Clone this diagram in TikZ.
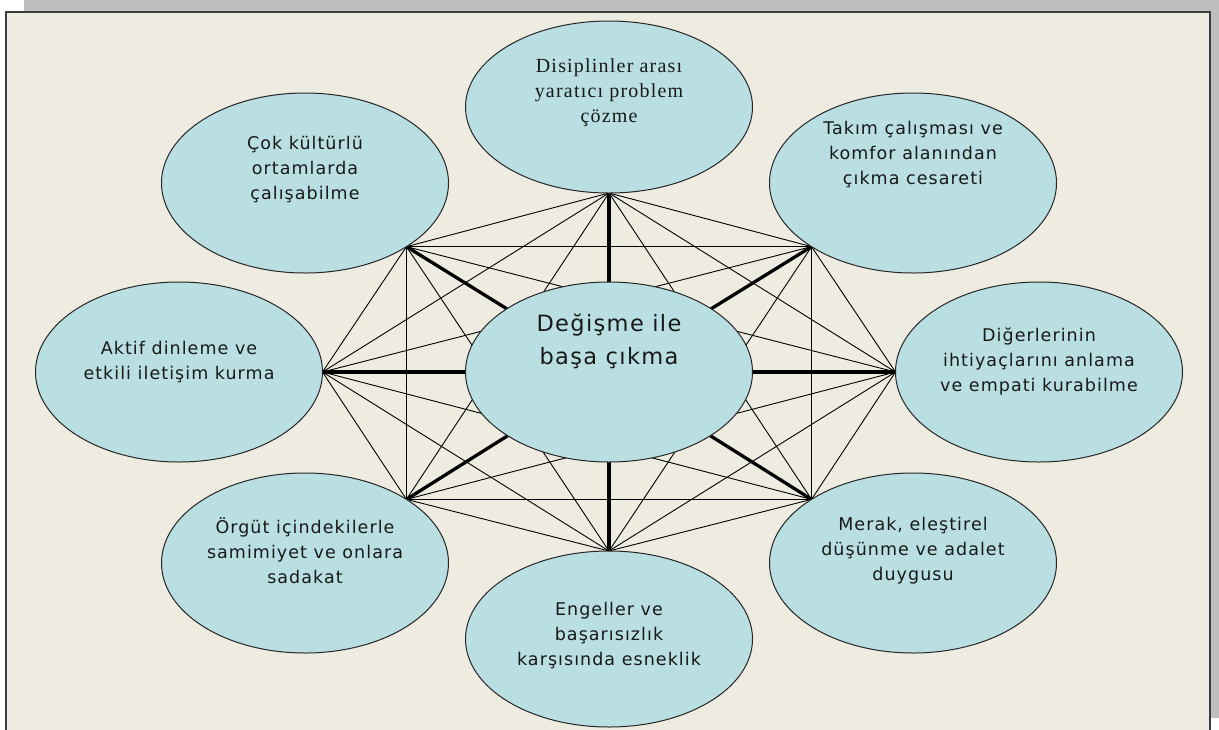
\documentclass[tikz,border=0pt]{standalone}
\usepackage{fontspec}
\usetikzlibrary{shapes.geometric, calc}
\newfontfamily\bubblefont{DejaVu Sans}[LetterSpace=6]
\newfontfamily\serifbubblefont{Liberation Serif}[LetterSpace=6]

\definecolor{bubblefill}{RGB}{185,223,227}
\definecolor{paper}{RGB}{238,235,224}
\definecolor{shadowgray}{RGB}{190,190,190}
\definecolor{framegray}{RGB}{60,60,60}

\pgfdeclarelayer{back}
\pgfdeclarelayer{links}
\pgfsetlayers{back,links,main}

\tikzstyle{bubble} = [ellipse, draw=black!85, line width=1pt, fill=bubblefill, minimum width=287pt, minimum height=180pt, inner sep=0pt, outer sep=0pt]
\tikzstyle{bubbletext} = [font=\bubblefont\fontsize{17.5}{25}\selectfont, align=center, text=black!90]
\tikzstyle{serifbubbletext} = [font=\serifbubblefont\fontsize{20}{25}\selectfont, align=center, text=black!90]
\tikzstyle{hubtext} = [font=\bubblefont\fontsize{22.5}{33}\selectfont, align=center, text=black!90]
\tikzstyle{thinlink} = [line width=0.9pt]
\tikzstyle{thicklink} = [line width=3.3pt]

\begin{document}
\begin{tikzpicture}[x=1pt, y=-1pt]
    \useasboundingbox (0,0) rectangle (1219,729);

    % paper with its shadow
    \begin{pgfonlayer}{back}
        \fill[shadowgray] (24,0) rectangle (1219,718);
        \filldraw[fill=paper, draw=framegray, line width=2pt] (6,12) rectangle (1210,745);
    \end{pgfonlayer}

    % the eight skills round the hub
    \node[bubble, minimum height=172pt, label={[serifbubbletext, yshift=14pt]center:{Disiplinler arası\\yaratıcı problem\\çözme}}] (problem) at (609,107) {};
    \node[bubble, label={[bubbletext, yshift=28pt]center:{Takım çalışması ve\\komfor alanından\\çıkma cesareti}}] (team) at (913,183) {};
    \node[bubble, label={[bubbletext, yshift=11pt]center:{Diğerlerinin\\ihtiyaçlarını anlama\\ve empati kurabilme}}] (empathy) at (1039,372) {};
    \node[bubble, label={[bubbletext, yshift=12pt]center:{Merak, eleştirel\\düşünme ve adalet\\duygusu}}] (curiosity) at (913,563) {};
    \node[bubble, minimum height=176pt, label={[bubbletext, yshift=3pt]center:{Engeller ve\\başarısızlık\\karşısında esneklik}}] (resilience) at (609,639) {};
    \node[bubble, label={[bubbletext, yshift=12pt]center:{Örgüt içindekilerle\\samimiyet ve onlara\\sadakat}}] (loyalty) at (305,563) {};
    \node[bubble, label={[bubbletext, yshift=10pt]center:{Aktif dinleme ve\\etkili iletişim kurma}}] (listen) at (179,372) {};
    \node[bubble, label={[bubbletext, yshift=13pt]center:{Çok kültürlü\\ortamlarda\\çalışabilme}}] (culture) at (305,183) {};

    % hub
    \node[bubble, label={[hubtext, yshift=31pt]center:{Değişme ile\\başa çıkma}}] (change) at (609,372) {};

    \coordinate (p1) at (problem.south);
    \coordinate (p2) at (team.south west);
    \coordinate (p3) at (empathy.west);
    \coordinate (p4) at (curiosity.north west);
    \coordinate (p5) at (resilience.north);
    \coordinate (p6) at (loyalty.north east);
    \coordinate (p7) at (listen.east);
    \coordinate (p8) at (culture.south east);

    \begin{pgfonlayer}{links}
        % every skill tied to every other
        \foreach \i in {1,...,7}{
            \pgfmathtruncatemacro\k{\i+1}
            \foreach \j in {\k,...,8}
                \draw[thinlink] (p\i) -- (p\j);
        }
        % spokes from the hub
        \foreach \i in {1,...,8}
            \draw[thicklink] (change) -- (p\i);
    \end{pgfonlayer}

\end{tikzpicture}
\end{document}
